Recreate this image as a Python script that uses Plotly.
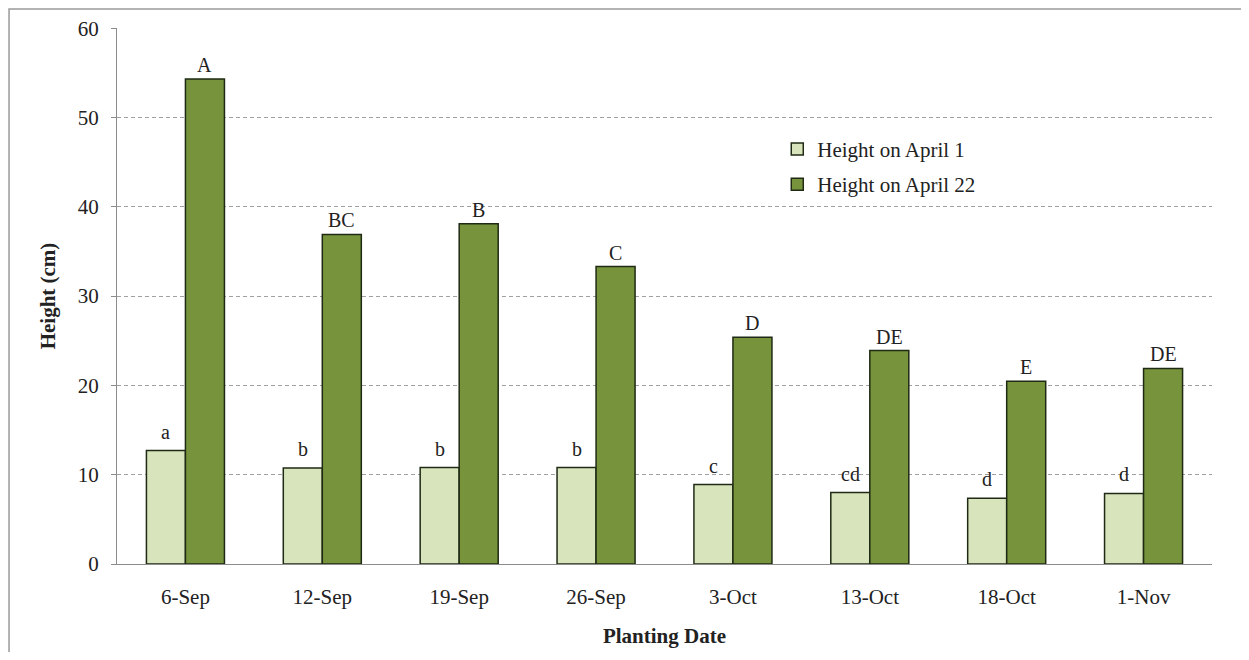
import plotly.graph_objects as go

# Planting dates and plant heights (cm)
planting_dates = ["6-Sep", "12-Sep", "19-Sep", "26-Sep", "3-Oct", "13-Oct", "18-Oct", "1-Nov"]
height_april_1 = [12.7, 10.75, 10.8, 10.8, 8.9, 8.0, 7.35, 7.9]
height_april_22 = [54.3, 36.9, 38.1, 33.3, 25.4, 23.9, 20.45, 21.9]
letters_april_1 = ["a", "b", "b", "b", "c", "cd", "d", "d"]
letters_april_22 = ["A", "BC", "B", "C", "D", "DE", "E", "DE"]

font_family = "Liberation Serif, Times New Roman, serif"

fig = go.Figure()

fig.add_trace(go.Bar(
    x=planting_dates,
    y=height_april_1,
    name="Height on April 1",
    legendgroup="apr1",
    marker=dict(color="#d8e4bc", line=dict(color="#1f2a14", width=1.5)),
))

fig.add_trace(go.Bar(
    x=planting_dates,
    y=height_april_22,
    name="Height on April 22",
    legendgroup="apr22",
    marker=dict(color="#77933c", line=dict(color="#1f2a14", width=1.5)),
))

# significance letters above each bar (shifted onto the left/right bar of a group)
for date, h1, l1, h22, l22 in zip(planting_dates, height_april_1, letters_april_1,
                                  height_april_22, letters_april_22):
    fig.add_annotation(x=date, y=h1, text=l1, showarrow=False, yanchor="bottom",
                       xshift=-19.5, yshift=6, font=dict(size=20, color="#222"))
    fig.add_annotation(x=date, y=h22, text=l22, showarrow=False, yanchor="bottom",
                       xshift=19.5, yshift=1, font=dict(size=20, color="#222"))

# page body adds ~8px offset, margins compensate for it
fig.update_layout(
    width=1233,
    height=644,
    barmode="group",
    bargap=0.43,
    bargroupgap=0,
    plot_bgcolor="white",
    paper_bgcolor="white",
    font=dict(family=font_family, size=21, color="#222"),
    margin=dict(l=109, r=29, t=20, b=88, autoexpand=False),
    legend=dict(
        x=0.603,
        y=0.812,
        xanchor="left",
        yanchor="top",
        bgcolor="rgba(0,0,0,0)",
        font=dict(size=21),
        tracegroupgap=5,
        itemwidth=30,
    ),
)

fig.update_yaxes(
    range=[0, 60.02],
    dtick=10,
    automargin=False,
    showgrid=True,
    gridcolor="#a0a0a0",
    griddash="4px,3px",
    gridwidth=1,
    showline=True,
    linecolor="#8c8c8c",
    ticks="outside",
    ticklen=5,
    tickcolor="#8c8c8c",
    ticklabelstandoff=8,
    zeroline=False,
    tickfont=dict(size=21),
    title=dict(text="<b>Height (cm)</b>", font=dict(size=21), standoff=16),
)

fig.update_xaxes(
    automargin=False,
    showline=True,
    linecolor="#8c8c8c",
    ticks="",
    ticklabelstandoff=14,
    tickfont=dict(size=21),
    title=dict(text="<b>Planting Date</b>", font=dict(size=21), standoff=20),
)

# outer chart border
fig.add_shape(
    type="rect",
    xref="paper",
    yref="paper",
    x0=-0.0986,
    x1=1.2,
    y0=-0.3,
    y1=1.0354,
    line=dict(color="#9a9a9a", width=1.5),
    layer="below",
)

fig.write_html("out.html")
